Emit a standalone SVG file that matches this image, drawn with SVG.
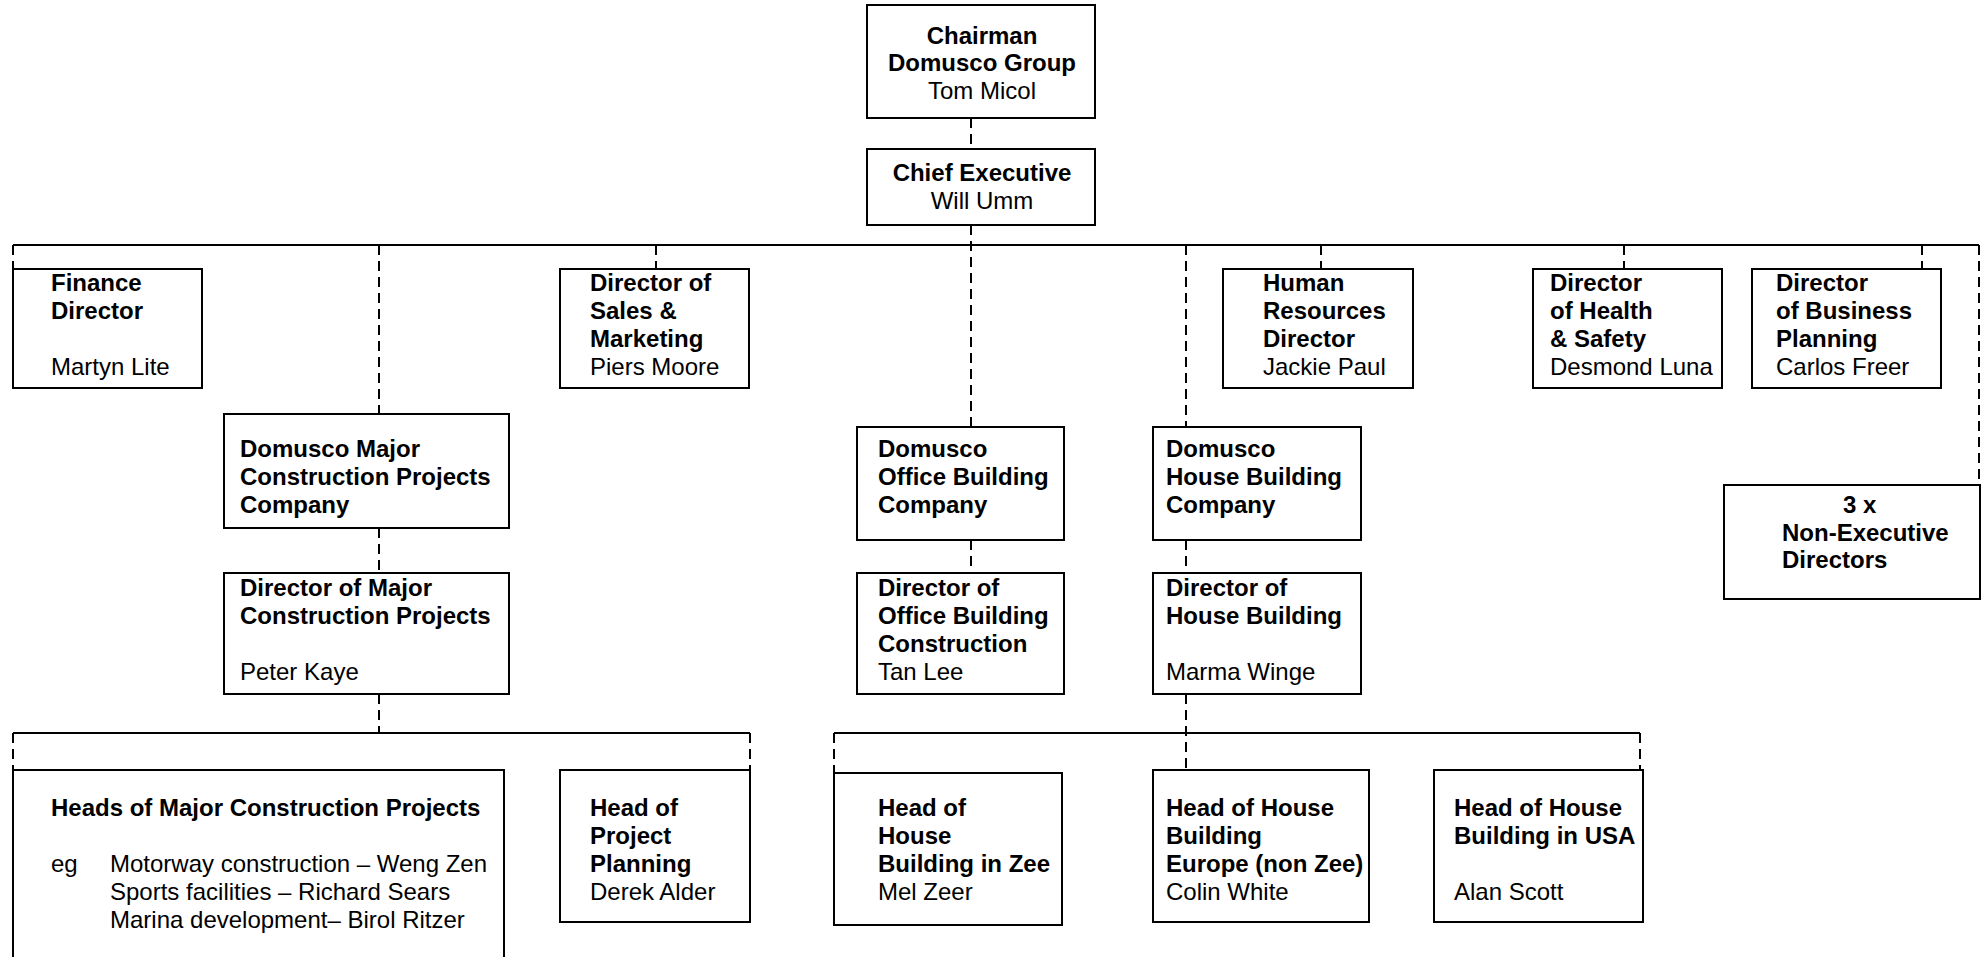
<svg xmlns="http://www.w3.org/2000/svg" width="1984" height="957" viewBox="0 0 1984 957">
<style>
.box{fill:#fff;stroke:#000;stroke-width:2}
.solid{stroke:#000;stroke-width:2;fill:none}
.dash{stroke:#000;stroke-width:2;stroke-dasharray:10 6;fill:none}
text{font-family:"Liberation Sans",Arial,sans-serif;font-size:24px;fill:#000}
.b{font-weight:bold}
.c{text-anchor:middle}
</style>
<rect width="1984" height="957" fill="#fff"/>
<g id="connectors">
<line class="dash" x1="971" y1="118" x2="971" y2="149"/>
<line class="solid" x1="13" y1="245" x2="1979" y2="245"/>
<line class="dash" x1="971" y1="225" x2="971" y2="427"/>
<line class="dash" x1="13" y1="245" x2="13" y2="269"/>
<line class="dash" x1="379" y1="245" x2="379" y2="414"/>
<line class="dash" x1="656" y1="245" x2="656" y2="269"/>
<line class="dash" x1="1186" y1="245" x2="1186" y2="427"/>
<line class="dash" x1="1321" y1="245" x2="1321" y2="269"/>
<line class="dash" x1="1624" y1="245" x2="1624" y2="269"/>
<line class="dash" x1="1922" y1="245" x2="1922" y2="269"/>
<line class="dash" x1="1979" y1="245" x2="1979" y2="485"/>
<line class="dash" x1="379" y1="528" x2="379" y2="573"/>
<line class="dash" x1="379" y1="694" x2="379" y2="733"/>
<line class="solid" x1="13" y1="733" x2="750" y2="733"/>
<line class="dash" x1="13" y1="733" x2="13" y2="770"/>
<line class="dash" x1="750" y1="733" x2="750" y2="770"/>
<line class="dash" x1="971" y1="540" x2="971" y2="573"/>
<line class="dash" x1="1186" y1="540" x2="1186" y2="573"/>
<line class="dash" x1="1186" y1="694" x2="1186" y2="770"/>
<line class="solid" x1="834" y1="733" x2="1640" y2="733"/>
<line class="dash" x1="834" y1="733" x2="834" y2="773"/>
<line class="dash" x1="1640" y1="733" x2="1640" y2="770"/>
</g>
<g id="chairman">
<rect class="box" x="867" y="5" width="228" height="113"/>
<text class="b c" x="982" y="44">Chairman</text>
<text class="b c" x="982" y="71">Domusco Group</text>
<text class="c" x="982" y="99">Tom Micol</text>
</g>
<g id="chief-executive">
<rect class="box" x="867" y="149" width="228" height="76"/>
<text class="b c" x="982" y="181">Chief Executive</text>
<text class="c" x="982" y="209">Will Umm</text>
</g>
<g id="finance">
<rect class="box" x="13" y="269" width="189" height="119"/>
<text class="b" x="51" y="291">Finance</text>
<text class="b" x="51" y="319">Director</text>
<text x="51" y="375">Martyn Lite</text>
</g>
<g id="sales">
<rect class="box" x="560" y="269" width="189" height="119"/>
<text class="b" x="590" y="291">Director of</text>
<text class="b" x="590" y="319">Sales &amp;</text>
<text class="b" x="590" y="347">Marketing</text>
<text x="590" y="375">Piers Moore</text>
</g>
<g id="hr">
<rect class="box" x="1223" y="269" width="190" height="119"/>
<text class="b" x="1263" y="291">Human</text>
<text class="b" x="1263" y="319">Resources</text>
<text class="b" x="1263" y="347">Director</text>
<text x="1263" y="375">Jackie Paul</text>
</g>
<g id="health-safety">
<rect class="box" x="1533" y="269" width="189" height="119"/>
<text class="b" x="1550" y="291">Director</text>
<text class="b" x="1550" y="319">of Health</text>
<text class="b" x="1550" y="347">&amp; Safety</text>
<text x="1550" y="375">Desmond Luna</text>
</g>
<g id="business-planning">
<rect class="box" x="1752" y="269" width="189" height="119"/>
<text class="b" x="1776" y="291">Director</text>
<text class="b" x="1776" y="319">of Business</text>
<text class="b" x="1776" y="347">Planning</text>
<text x="1776" y="375">Carlos Freer</text>
</g>
<g id="major-company">
<rect class="box" x="224" y="414" width="285" height="114"/>
<text class="b" x="240" y="457">Domusco Major</text>
<text class="b" x="240" y="485">Construction Projects</text>
<text class="b" x="240" y="513">Company</text>
</g>
<g id="major-director">
<rect class="box" x="224" y="573" width="285" height="121"/>
<text class="b" x="240" y="596">Director of Major</text>
<text class="b" x="240" y="624">Construction Projects</text>
<text x="240" y="680">Peter Kaye</text>
</g>
<g id="office-company">
<rect class="box" x="857" y="427" width="207" height="113"/>
<text class="b" x="878" y="457">Domusco</text>
<text class="b" x="878" y="485">Office Building</text>
<text class="b" x="878" y="513">Company</text>
</g>
<g id="house-company">
<rect class="box" x="1153" y="427" width="208" height="113"/>
<text class="b" x="1166" y="457">Domusco</text>
<text class="b" x="1166" y="485">House Building</text>
<text class="b" x="1166" y="513">Company</text>
</g>
<g id="office-director">
<rect class="box" x="857" y="573" width="207" height="121"/>
<text class="b" x="878" y="596">Director of</text>
<text class="b" x="878" y="624">Office Building</text>
<text class="b" x="878" y="652">Construction</text>
<text x="878" y="680">Tan Lee</text>
</g>
<g id="house-director">
<rect class="box" x="1153" y="573" width="208" height="121"/>
<text class="b" x="1166" y="596">Director of</text>
<text class="b" x="1166" y="624">House Building</text>
<text x="1166" y="680">Marma Winge</text>
</g>
<g id="non-executive">
<rect class="box" x="1724" y="485" width="256" height="114"/>
<text class="b" x="1843" y="513">3 x</text>
<text class="b" x="1782" y="541">Non-Executive</text>
<text class="b" x="1782" y="568">Directors</text>
</g>
<g id="heads-major">
<rect class="box" x="13" y="770" width="491" height="200"/>
<text class="b" x="51" y="816">Heads of Major Construction Projects</text>
<text x="51" y="872">eg</text>
<text x="110" y="872">Motorway construction – Weng Zen</text>
<text x="110" y="900">Sports facilities – Richard Sears</text>
<text x="110" y="928">Marina development– Birol Ritzer</text>
</g>
<g id="project-planning">
<rect class="box" x="560" y="770" width="190" height="152"/>
<text class="b" x="590" y="816">Head of</text>
<text class="b" x="590" y="844">Project</text>
<text class="b" x="590" y="872">Planning</text>
<text x="590" y="900">Derek Alder</text>
</g>
<g id="house-zee">
<rect class="box" x="834" y="773" width="228" height="152"/>
<text class="b" x="878" y="816">Head of</text>
<text class="b" x="878" y="844">House</text>
<text class="b" x="878" y="872">Building in Zee</text>
<text x="878" y="900">Mel Zeer</text>
</g>
<g id="house-europe">
<rect class="box" x="1153" y="770" width="216" height="152"/>
<text class="b" x="1166" y="816">Head of House</text>
<text class="b" x="1166" y="844">Building</text>
<text class="b" x="1166" y="872">Europe (non Zee)</text>
<text x="1166" y="900">Colin White</text>
</g>
<g id="house-usa">
<rect class="box" x="1434" y="770" width="209" height="152"/>
<text class="b" x="1454" y="816">Head of House</text>
<text class="b" x="1454" y="844">Building in USA</text>
<text x="1454" y="900">Alan Scott</text>
</g>
</svg>
